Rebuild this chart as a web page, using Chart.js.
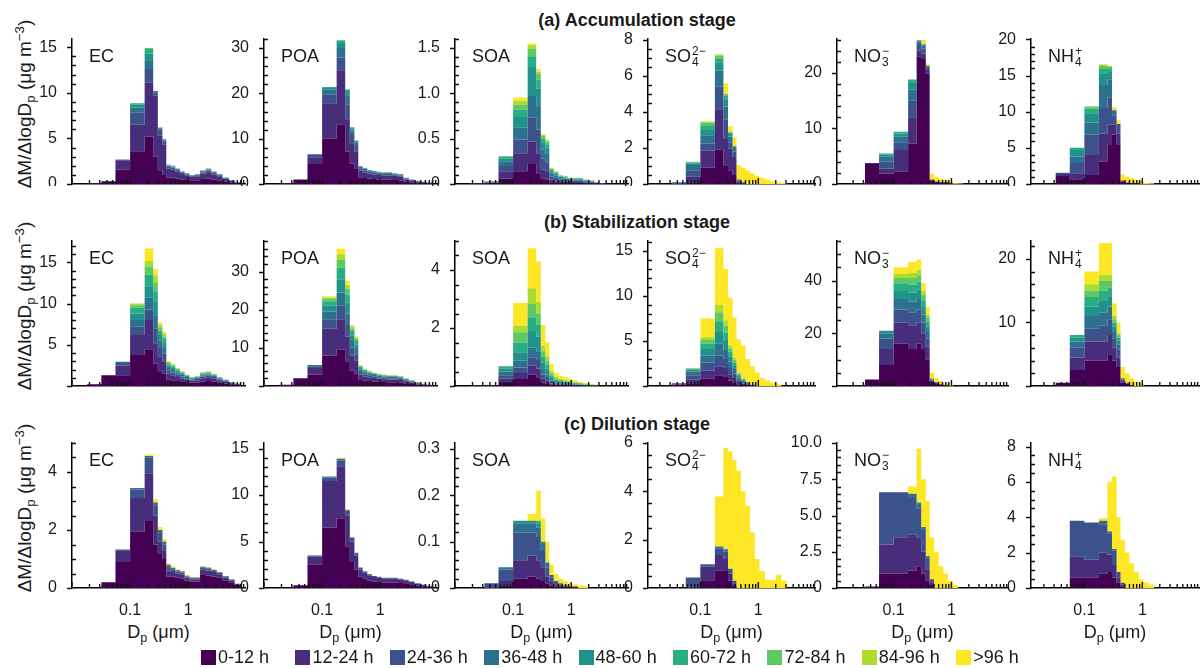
<!DOCTYPE html>
<html>
<head>
<meta charset="utf-8">
<script src="https://cdn.jsdelivr.net/npm/chart.js@4.4.1/dist/chart.umd.min.js"></script>
<style>
  body { margin: 0; background: #fff; font-family: "Liberation Sans", Arial, sans-serif; color: #1a1a1a; }
  #page { position: relative; width: 1200px; height: 668px; overflow: hidden; }
  canvas { position: absolute; }
  .stage { position: absolute; left: 0; width: 1274px; text-align: center; font-weight: bold; font-size: 18px; line-height: 22px; }
  .sp { position: absolute; font-size: 18px; line-height: 20px; white-space: nowrap; }
  .ion { display: inline-flex; flex-direction: column; font-size: 12px; line-height: 11px; vertical-align: 7px; margin-left: 1px; }
  .ytitle { position: absolute; font-size: 19px; line-height: 22px; white-space: nowrap; transform: translate(-50%, -50%) rotate(-90deg); }
  .xtitle { position: absolute; font-size: 18px; line-height: 22px; white-space: nowrap; transform: translate(-50%, -50%); }
  sub, sup { font-size: 0.7em; line-height: 0; }
  sub { vertical-align: -0.3em; }
  sup { vertical-align: 0.55em; }
  .leg { position: absolute; top: 647px; font-size: 18px; line-height: 20px; white-space: nowrap; }
  .leg i { display: inline-block; width: 15px; height: 15px; vertical-align: -2px; margin-right: 2px; }
</style>
</head>
<body>
<div id="page"></div>
<script>
// ---- data ----
const binEdges = [0.018, 0.032, 0.056, 0.1, 0.178, 0.25, 0.3, 0.36, 0.42, 0.5, 0.6, 0.72, 0.87, 1.05, 1.3, 1.6, 2.0, 2.5, 3.1, 3.9, 5.0, 6.3, 8.0];
const ageGroups = ["0-12 h", "12-24 h", "24-36 h", "36-48 h", "48-60 h", "60-72 h", "72-84 h", "84-96 h", ">96 h"];
const stageTitles = ["(a) Accumulation stage", "(b) Stabilization stage", "(c) Dilution stage"];
const xTickValues = [0.1, 1];

// y axes (max, labelled step, minor step, decimals)
const accYMax = [15.9, 32, 1.6, 8.05, 26.1, 20.05];
const accYMajor = [5, 10, 0.5, 2, 10, 5];
const accYMinor = [1, 2, 0.1, 0.5, 2, 1];
const accYDec = [0, 0, 1, 0, 0, 0];
const stabYMax = [17.6, 38, 5.0, 16.1, 55, 22.8];
const stabYMajor = [5, 10, 2, 5, 20, 10];
const stabYMinor = [1, 2, 0.5, 1, 5, 2];
const stabYDec = [0, 0, 0, 0, 0, 0];
const dilYMax = [5.0, 15.6, 0.313, 6.0, 10.0, 8.2];
const dilYMajor = [2, 5, 0.1, 2, 2.5, 2];
const dilYMinor = [0.5, 1, 0.02, 0.5, 0.5, 0.5];
const dilYDec = [0, 0, 1, 0, 1, 0];

// each panel: one row per age group, one value per size bin (missing = 0)
const accEC = [
  [.1,.3,1.6,3.6,5.2,3.0,1.5,1.0,.7,.7,.6,.5,.45,.4,.4,.55,.6,.5,.4,.25,.15,.08],
  [0,0,1.0,2.9,5.9,6.7,3.8,3.3,1.0,.9,.75,.6,.5,.4,.45,.6,.7,.55,.45,.3,.17,.08],
  [0,0,.05,1.3,1.5,.3,.5,.3,.2,.2,.18,.15,.12,.1,.12,.15,.18,.15,.12,.08,.05,.03],
  [0,0,.05,.6,.9,.2,.3,.2,.1,.1,.08,.07,.06,.05,.07,.1,.1,.1,.07,.04,.02,.01],
  [0,0,0,.3,.8,0,.1,.1,.06,.06,.05,.04,.04,.03,.04,.06,.06,.05,.03,.02,.01],
  [0,0,0,.15,.5,0,0,0,.04,.04,.04,.03,.03,.02,.02,.03,.04,.03,.02,.01],
  [0,0,0,0,.1,0,0,0,0,0,0,0,0,0,0,.02,.02],
  [0,0,0,0,0,0,0,0,0,0,0,0,0,0,0,.02,.03],
  []
];
const accPOA = [
  [.2,1.0,4.4,10.0,13.2,7.1,4.5,3.5,1.5,1.3,1.2,1.1,1.0,1.0,1.0,.9,.8,.5,.4,.3,.2,.1],
  [0,0,1.5,7.8,11.9,7.2,4.5,3.6,1.5,1.3,1.1,1.0,1.0,.9,.9,.9,.8,.5,.35,.25,.2,.1],
  [0,0,.6,1.9,2.8,3.3,1.8,1.3,.5,.45,.4,.4,.35,.35,.35,.3,.3,.2,.13,.08,.05,.05],
  [0,0,.1,1.1,2.1,2.0,1.0,.7,.3,.27,.25,.23,.2,.2,.2,.18,.17,.12,.07,.04,.03,.03],
  [0,0,0,.4,1.1,.9,.5,.4,.15,.13,.12,.12,.1,.1,.1,.08,.08,.05,.03,.02,.01,.01],
  [0,0,0,.2,.5,.3,.2,.1,.05,.05,.03,.05,.05,.05,.05,.04,.05,.03,.02,.01,.01,.01],
  [0,0,0,0,.2,.1],
  [],
  []
];
const accSOA = [
  [.003,.006,.06,.14,.22,.12,.06,.05,.02,.015,.01,.01,.008,.008,.008,.006,.005,.002,.001],
  [.003,.008,.08,.2,.25,.21,.1,.09,.03,.025,.02,.017,.013,.013,.013,.009,.007,.004,.002],
  [.002,.006,.06,.15,.26,.27,.12,.1,.035,.03,.02,.018,.014,.014,.014,.01,.008,.004,.002],
  [.002,.005,.05,.13,.24,.25,.1,.09,.03,.025,.017,.015,.012,.012,.012,.008,.007,.004,.002],
  [0,.003,.03,.12,.32,.2,.08,.07,.025,.02,.013,.012,.009,.009,.009,.007,.005,.003,.001],
  [0,.002,.02,.08,.12,.1,.04,.04,.015,.01,.008,.007,.006,.006,.006,.004,.003,.001,.001],
  [0,0,.01,.055,.08,.07,.03,.03,.01,.008,.006,.005,.004,.004,.004,.003,.003,.001,.001],
  [0,0,0,.045,.04,.02,.01,.01,.01,.004,.003,.003,.002,.002,.002,.002,.001,.001],
  [0,0,0,.035,.02,.03,.01,.01,.005,.003,.003,.003,.002,.002,.002,.001,.001]
];
const accSO4 = [
  [0,0,.1,.9,1.9,1.0,.77,.5],
  [0,0,.3,.94,2.25,1.5,1.2,1.0,.15,.05],
  [0,.05,.37,.41,1.25,1.1,.35,.3,.05,.03],
  [0,.05,.28,.45,.9,.7,.3,.2,.05,.02],
  [0,0,.1,.3,.46,.4,.15,.1],
  [0,0,.05,.26,.22,.2,.08],
  [0,0,.03,.14,.15,.1,.03],
  [0,0,0,.05,.05],
  [0,0,0,.03,.04,.6,.32,.5,.8,.8,.75,.6,.45,.35,.25,.15,.1,.05]
];
const accNO3 = [
  [.1,3.6,1.9,2.2,7.3,22.9,22.5,19.9,.6,.4,.3,.3,.1],
  [0,.2,.9,3.9,4.7,1.1,1.0,.6,.2],
  [0,0,1.2,1.4,3.0,1.0,.9,.5],
  [0,0,.9,1.0,2.0,.6,.5,.3],
  [0,0,.4,.6,1.3,.2,.2],
  [0,0,.2,.3,.5,.1,.1],
  [],
  [],
  [0,0,0,0,0,0,.7,.4,1.1,.9,.6,.5,.3,.15,.1]
];
const accNH4 = [
  [0,1.1,.65,1.25,3.1,5.4,6.8,5.5,.3,.2,.1,.1],
  [0,.3,.85,2.75,3.9,2.8,1.4,1.5,.2],
  [0,.12,1.4,2.8,3.5,3.8,1.3,1.3],
  [0,.05,.9,1.7,3.2,2.5,.7],
  [0,0,.9,1.3,1.6,1.0],
  [0,0,.3,.6,.7,.5],
  [0,0,0,.3,.3,.2],
  [0,0,0,0,.15,.1],
  [0,0,0,0,.15,.1,.4,.5,.8,.8,.7,.5,.4,.15,.1]
];

const stabEC = [
  [.2,1.3,1.3,3.75,4.45,2.7,1.8,1.5,.8,.7,.6,.5,.45,.4,.4,.55,.6,.55,.4,.3,.2,.12],
  [0,0,1.2,2.45,3.55,2.5,1.8,1.5,.7,.6,.5,.4,.3,.25,.3,.4,.45,.4,.3,.22,.13,.08],
  [0,0,.3,1.0,1.3,1.8,1.0,.9,.4,.35,.3,.25,.2,.15,.15,.2,.2,.15,.12,.08,.05,.03],
  [0,0,.14,.8,1.4,1.6,.9,.8,.3,.3,.25,.2,.15,.1,.12,.15,.15,.12,.1,.07,.04,.03],
  [0,0,0,.8,1.4,1.7,.7,.6,.25,.25,.2,.15,.1,.08,.08,.12,.12,.1,.07,.05,.03,.02],
  [0,0,0,.7,1.4,1.2,.5,.4,.2,.2,.15,.12,.08,.05,.06,.1,.1,.07,.05,.03,.02,.01],
  [0,0,0,.3,1.0,1.0,.4,.3,.15,.13,.1,.08,.05,.03,.04,.08,.08,.05,.03,.02,.01,.01],
  [0,0,0,.2,.7,.9,.3,.3,.1,.1,.06,.06,.04,.02,.03,.05,.05,.03,.02,.02,.01],
  [0,0,0,0,1.5,.8,.3,.3,.1,.07,.04,.04,.03,.02,.02,.05,.05,.03,.01,.01,.01]
];
const stabPOA = [
  [.3,2.0,3.0,8,9.5,6.5,4,3.3,1.6,1.4,1.3,1.2,1.1,1.05,1.0,1.0,.95,.75,.55,.4,.25,.12],
  [0,0,1.7,7,8,6.5,4,3.3,1.4,1.1,1.0,.9,.8,.75,.7,.7,.65,.5,.4,.25,.15,.08],
  [0,0,.5,2.5,3.5,3,2,1.6,.7,.6,.5,.45,.4,.4,.35,.35,.3,.25,.2,.12,.08,.04],
  [0,0,.3,2,3.5,3,1.8,1.5,.6,.5,.4,.35,.3,.3,.3,.3,.25,.2,.15,.1,.06,.03],
  [0,0,0,1.5,3.5,2.8,1.5,1.2,.4,.3,.3,.25,.25,.2,.2,.2,.2,.15,.1,.07,.04,.02],
  [0,0,0,1.2,3,2.2,1.1,.9,.3,.25,.2,.15,.15,.1,.1,.1,.1,.07,.05,.03,.02,.01],
  [0,0,0,.6,2,1.5,.7,.5,.2,.15,.1,.1,.1,.1,.08,.08,.08,.05,.03,.02],
  [0,0,0,.4,1.5,1,.5,.4,.2,.1,.1,.05,.05,.05,.04,.04,.04,.02,.01,.01],
  [0,0,0,.3,1.5,1,.4,.3,.1,.1,.1,.05,.05,.05,.03,.03,.03,.01,.01]
];
const stabSOA = [
  [0,.01,.1,.24,.39,.3,.12,.08,.04,.02,.02,.015,.012,.01,.008,.005,.004,.003],
  [.02,.01,.15,.21,.31,.3,.13,.1,.05,.03,.02,.02,.015,.012,.01,.006,.005,.003],
  [0,.01,.12,.19,.29,.3,.15,.1,.05,.03,.02,.02,.015,.012,.01,.007,.005,.004],
  [0,0,.13,.23,.34,.3,.15,.12,.06,.04,.03,.025,.02,.016,.012,.008,.006,.004],
  [0,0,.1,.29,.57,.5,.25,.18,.08,.05,.04,.035,.03,.025,.02,.012,.008,.006],
  [0,0,.08,.34,.47,.4,.2,.15,.08,.05,.04,.035,.03,.025,.02,.012,.008,.006],
  [0,0,0,.35,.46,.4,.2,.15,.08,.05,.04,.035,.03,.025,.02,.012,.008,.006],
  [0,0,0,.23,.54,.4,.2,.15,.07,.04,.03,.025,.02,.015,.01,.008,.006,.004],
  [0,0,0,.78,1.38,1.39,.7,.47,.25,.14,.11,.095,.078,.06,.04,.03,.02,.014]
];
const stabSO4 = [
  [0,.1,.3,.8,1.2,1.0,.6,.4,.2,.1,.05],
  [0,.1,.4,.9,1.0,1.0,.7,.5,.25,.15,.1,.05],
  [0,.1,.5,.9,1.2,1.0,.7,.5,.25,.15,.1,.05],
  [0,0,.4,.8,1.3,1.0,.7,.5,.25,.15,.1,.05],
  [0,0,.2,.7,1.3,1.0,.6,.4,.2,.1,.05],
  [0,0,.1,.6,1.2,.9,.5,.3,.15,.1,.05],
  [0,0,.05,.4,1.0,.8,.4,.3,.1,.05],
  [0,0,.05,.3,.8,.6,.3,.2,.1,.05],
  [0,0,0,2.1,6.3,5.7,5.3,4.5,3.7,3.65,2.55,2.05,1.5,.9,.6,.4,.2]
];
const stabNO3 = [
  [.2,2.5,8,16,14,16,14,10,1.5,.8,.5,.3],
  [0,0,6,8,9,8,6,5,.5,.3,.2],
  [0,0,4,5,5,5,4,3,.3,.2,.1],
  [0,0,2,4,4,4,3,2.5,.2,.1],
  [0,0,1,3,3.5,3.5,3,2,.2,.1],
  [0,0,0,3,3,3,2.5,2,.1],
  [0,0,0,2,2.5,2.5,2,1.5,.1],
  [0,0,0,1.5,2,2,1.5,1,.1],
  [0,0,0,2.5,4,4,3,3,2,1.5,1.2,.7,.5]
];
const stabNH4 = [
  [0,.5,2.5,4,4,5,4,3,.5,.3,.1],
  [0,0,2,3,3,3,2,1.5,.3,.1],
  [0,0,1.5,2,2.5,2.5,1.5,1.2,.2,.1],
  [0,0,1,2,2,2,1,.8,.1],
  [0,0,.6,1.5,2,1.5,.8,.6,.1],
  [0,0,.4,1.5,1.5,1.5,.7,.5],
  [0,0,0,1,1.5,1,.5,.4],
  [0,0,0,1,1,1,.5,.3],
  [0,0,0,2,5,5,2,1.7,1.8,1.5,1.1,.7,.4]
];

const dilEC = [
  [0,.2,.9,1.94,2.31,1.5,1.2,1.0,.4,.4,.35,.33,.25,.22,.22,.45,.43,.4,.35,.27,.2,.1],
  [0,0,.4,1.16,1.65,1.0,.4,.3,.2,.15,.15,.14,.1,.08,.08,.18,.17,.15,.12,.09,.06,.03],
  [0,0,.03,.3,.53,.35,.3,.2,.15,.1,.08,.07,.05,.04,.04,.07,.07,.06,.05,.04,.03,.02],
  [0,0,0,.05,.06,.1,.1,.1,.05,.05,.03,.03,.02,.02,.02,.03,.03,.02,.02,.01,.01],
  [],
  [],
  [],
  [],
  [0,0,0,0,.05,.11,.1,.08,.05,.05,.04,.03,.03,.02,.02,.02,.02,.02,.01,.01]
];
const dilPOA = [
  [0,.3,2.5,6.5,7.5,4.5,2.8,2.0,1.2,1.0,.8,.7,.65,.6,.6,.6,.55,.5,.4,.28,.2,.12],
  [0,0,.9,5.0,5.6,3.3,2.2,1.5,.8,.65,.55,.48,.45,.42,.42,.42,.38,.34,.26,.19,.13,.07],
  [0,0,.1,.4,.6,.5,.4,.25,.15,.12,.12,.1,.08,.07,.07,.07,.06,.05,.04,.03,.02,.01],
  [0,0,0,.1,.2,.1,.05,.05,.05,.03,.03,.02,.02,.01,.01,.01,.01,.01],
  [],
  [],
  [],
  [],
  [0,0,0,0,.1,.1,.05]
];
const dilSOA = [
  [0,0,.005,.02,.025,.02,.015,.01,.005,.003,.002,.001,.001,.001],
  [0,0,.01,.04,.045,.04,.03,.015,.008,.005,.003,.002,.001,.001],
  [0,.01,.025,.06,.05,.05,.035,.02,.01,.005,.003,.002,.001,.001],
  [0,0,.005,.02,.02,.02,.015,.01,.005,.002,.002,.001,.001],
  [0,0,0,.005,.005,.01,.005],
  [0,0,0,0,0,.005],
  [],
  [],
  [0,0,0,0,.015,.065,.05,.045,.022,.015,.01,.009,.006,.005,.006,.004]
];
const dilSO4 = [
  [0,0,0,.32,.71,.7,.3,.1],
  [0,0,.05,.56,.66,.5,.3,.1],
  [0,0,.38,.07,.28,.3,.15,.1],
  [0,0,0,.03,.07,.1,.05],
  [],
  [],
  [],
  [],
  [0,0,0,0,2.07,4.2,4.85,5.0,4.85,4.0,3.4,2.3,1.2,.7,.35,.33,.55,.3]
];
const dilNO3 = [
  [0,.1,1.0,1.0,1.2,1.5,1.0,.5,.2],
  [0,0,2.0,2.5,2.5,2.0,1.5,.8,.2],
  [0,0,3.6,3.1,2.5,2.0,1.5,.8,.2],
  [0,0,0,0,.3,.3,.2,.1],
  [0,0,0,0,0,.1],
  [],
  [],
  [],
  [0,0,0,0,.5,3.7,3.3,3.8,2.9,2.5,1.5,1.0,.5,.2]
];
const dilNH4 = [
  [0,0,.6,.6,.8,.9,.6,.3,.1],
  [0,0,1.2,1.0,1.2,1.0,.7,.3,.1],
  [0,0,2.0,2.1,1.6,1.2,.8,.3,.1],
  [0,0,0,0,.2,.1,.1],
  [],
  [],
  [],
  [],
  [0,0,0,0,.15,2.8,4.1,3.1,2.4,2.0,1.4,.9,.5,.3,.2]
];

// ---- look ----
const palette = ["#440154", "#472d7b", "#3b528b", "#2c728e", "#21918c", "#28ae80", "#5ec962", "#addc30", "#fde725"];
const speciesHtml = [
  "EC", "POA", "SOA",
  'SO<span class="ion"><span>2\u2212</span><span>4</span></span>',
  'NO<span class="ion"><span>\u2212</span><span>3</span></span>',
  'NH<span class="ion"><span>+</span><span>4</span></span>'
];
const COL_LEFT = [72, 264, 455, 648, 837, 1031];
const COL_XMIN = [0.01, 0.01, 0.01, 0.0125, 0.0105, 0.012];
const X_MAX = 9.5;
const DECADE = 58;
const ROW_TOP = [39, 241, 443];
const PLOT_H = 145;
const Y_W = 52, PAD_T = 8, PAD_R = 6;
const TICK_FONT = { family: "Liberation Sans, Arial", size: 16 };

const stages = [
  { data: [accEC, accPOA, accSOA, accSO4, accNO3, accNH4], max: accYMax, major: accYMajor, minor: accYMinor, dec: accYDec, zero: true },
  { data: [stabEC, stabPOA, stabSOA, stabSO4, stabNO3, stabNH4], max: stabYMax, major: stabYMajor, minor: stabYMinor, dec: stabYDec, zero: false },
  { data: [dilEC, dilPOA, dilSOA, dilSO4, dilNO3, dilNH4], max: dilYMax, major: dilYMajor, minor: dilYMinor, dec: dilYDec, zero: true }
];

// small inward ticks like the original axes
const axisTicks = {
  id: "axisTicks",
  afterDraw(chart, args, o) {
    const { ctx, chartArea: a } = chart;
    const xs = chart.scales.x, ys = chart.scales.y;
    ctx.save();
    ctx.strokeStyle = "#111";
    ctx.lineWidth = 1.4;
    ctx.beginPath();
    for (let e = -2; e < 1; e++) {
      for (let k = 1; k < 10; k++) {
        const v = k * Math.pow(10, e);
        if (v < xs.min || v > xs.max) continue;
        const px = xs.getPixelForValue(v);
        ctx.moveTo(px, a.bottom);
        ctx.lineTo(px, a.bottom - (k === 1 ? 6 : 4));
      }
    }
    for (let i = 0; i * o.minor <= o.max + 1e-9; i++) {
      const v = i * o.minor;
      const py = Math.round(ys.getPixelForValue(v)) + 0.5;
      const r = v / o.major;
      if (Math.abs(r - Math.round(r)) < 1e-6) {
        ctx.moveTo(a.left - 5, py); ctx.lineTo(a.left, py);
      } else {
        ctx.moveTo(a.left, py); ctx.lineTo(a.left + 4, py);
      }
    }
    ctx.stroke();
    ctx.restore();
  }
};

const page = document.getElementById("page");

function addDiv(cls, html, style) {
  const d = document.createElement("div");
  d.className = cls;
  d.innerHTML = html;
  Object.assign(d.style, style);
  page.appendChild(d);
  return d;
}

function makePanel(r, c, series, st) {
  const top = ROW_TOP[r], left = COL_LEFT[c], xmin = COL_XMIN[c];
  const w = Math.round(DECADE * Math.log10(X_MAX / xmin));
  const bottomH = r === 2 ? 28 : 2;
  const yMax = st.max[c], major = st.major[c], minor = st.minor[c], dec = st.dec[c];

  const cv = document.createElement("canvas");
  cv.width = w + Y_W + PAD_R;
  cv.height = PLOT_H + PAD_T + bottomH;
  cv.style.left = (left - Y_W) + "px";
  cv.style.top = (top - PAD_T) + "px";
  page.appendChild(cv);

  const datasets = series.map((vals, j) => ({
    label: ageGroups[j],
    data: binEdges.map((e, i) => ({ x: e, y: i < binEdges.length - 1 ? (vals[i] || 0) : 0 })),
    backgroundColor: palette[j],
    borderColor: palette[j],
    borderWidth: 0,
    pointRadius: 0,
    stepped: true,
    fill: j === 0 ? "origin" : "-1"
  }));

  new Chart(cv, {
    type: "line",
    data: { datasets },
    options: {
      responsive: false,
      animation: false,
      events: [],
      layout: { padding: { top: PAD_T, right: PAD_R, left: 0, bottom: 0 } },
      plugins: {
        legend: { display: false },
        tooltip: { enabled: false },
        axisTicks: { max: yMax, major, minor }
      },
      scales: {
        x: {
          type: "logarithmic",
          min: xmin,
          max: X_MAX,
          grid: { display: false },
          border: { display: true, color: "#000", width: 1.5 },
          ticks: {
            display: r === 2,
            padding: 5,
            color: "#1a1a1a",
            font: TICK_FONT,
            callback: (v) => String(v)
          },
          afterBuildTicks: (s) => { s.ticks = xTickValues.map((v) => ({ value: v })); },
          afterFit: (s) => { s.height = bottomH; s.paddingLeft = 0; s.paddingRight = 0; }
        },
        y: {
          stacked: true,
          min: 0,
          max: yMax,
          grid: { display: false },
          border: { display: true, color: "#000", width: 1.5 },
          ticks: {
            padding: 7,
            color: "#1a1a1a",
            font: TICK_FONT,
            callback: (v) => (v === 0 ? "0" : v.toFixed(dec))
          },
          afterBuildTicks: (s) => {
            const t = [];
            for (let k = st.zero ? 0 : 1; k * major <= yMax + 1e-9; k++) t.push({ value: +(k * major).toFixed(4) });
            s.ticks = t;
          },
          afterFit: (s) => { s.width = Y_W; s.paddingTop = 0; s.paddingBottom = 0; }
        }
      }
    },
    plugins: [axisTicks]
  });

  addDiv("sp", speciesHtml[c], { left: (left + 17) + "px", top: (top + 7) + "px" });
  if (r === 2) {
    addDiv("xtitle", "D<sub>p</sub> (\u03bcm)", { left: (left + w / 2) + "px", top: "632px" });
  }
}

stages.forEach((st, r) => {
  addDiv("stage", stageTitles[r], { top: (ROW_TOP[r] - 30) + "px" });
  addDiv("ytitle", "\u0394M/\u0394logD<sub>p</sub> (\u03bcg m<sup>\u22123</sup>)", { left: "25px", top: (ROW_TOP[r] + PLOT_H / 2 - 8) + "px" });
  st.data.forEach((series, c) => makePanel(r, c, series, st));
});

ageGroups.forEach((g, i) => {
  addDiv("leg", '<i style="background:' + palette[i] + '"></i>' + g, { left: (201 + i * 94.4) + "px" });
});
</script>
</body>
</html>
